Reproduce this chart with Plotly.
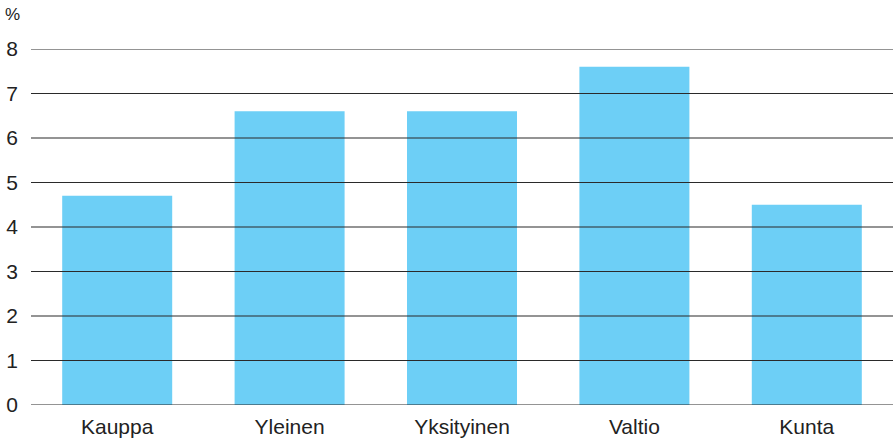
import plotly.graph_objects as go

categories = ["Kauppa", "Yleinen", "Yksityinen", "Valtio", "Kunta"]
values = [4.7, 6.6, 6.6, 7.6, 4.5]
y_ticks = [0, 1, 2, 3, 4, 5, 6, 7, 8]

fig = go.Figure()
fig.add_trace(go.Bar(x=categories, y=values, marker=dict(color="#6DCFF6", line=dict(width=0)),
                     hoverinfo="x+y"))

for t in y_ticks:
    fig.add_shape(type="line", xref="paper", yref="y", x0=0, x1=1, y0=t, y1=t,
                  line=dict(color="#2a2a2a", width=1.2), layer="above")

fig.add_annotation(text="%", xref="paper", yref="paper", x=-0.021, y=1.098,
                   showarrow=False, xanchor="center", yanchor="middle",
                   font=dict(size=17, color="#222222"))

fig.update_layout(
    width=893, height=441,
    margin=dict(l=31, r=0, t=49, b=36),
    paper_bgcolor="white", plot_bgcolor="white",
    bargap=0.362,
    showlegend=False,
    font=dict(family="Liberation Sans, Arial, sans-serif", color="#222222"),
    xaxis=dict(showgrid=False, showline=False, zeroline=False,
               tickfont=dict(size=21), ticks="", ticklabelstandoff=7),
    yaxis=dict(range=[0, 8], tickvals=y_ticks, showgrid=False, zeroline=False,
               showline=False, tickfont=dict(size=21), ticks="",
               ticklabelstandoff=12),
)

fig.write_html("out.html", config={"displayModeBar": False},
               post_script="document.body.style.margin='0';")
